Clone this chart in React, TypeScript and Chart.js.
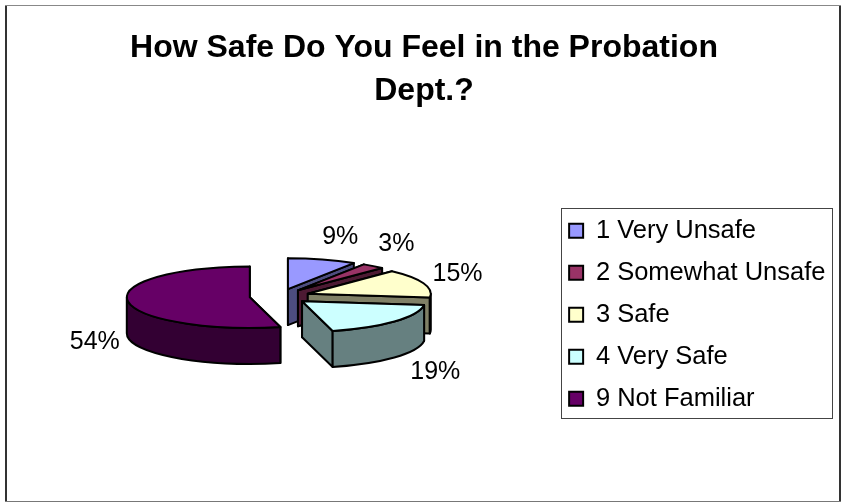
import React, { useEffect, useRef } from "react";
import { Chart, registerables } from "chart.js";

Chart.register(...registerables);

const categories = ["1 Very Unsafe", "2 Somewhat Unsafe", "3 Safe", "4 Very Safe", "9 Not Familiar"];
const percentages = [9, 3, 15, 19, 54];
const faceColors = ["#9999ff", "#993366", "#ffffcc", "#ccffff", "#660066"];
const wallColors = ["#4d4d80", "#4d1a33", "#808066", "#668080", "#330033"];
const titleLines = ["How Safe Do You Feel in the Probation", "Dept.?"];

// Nudges for the percentage labels, measured from the rim at each slice's mid-angle.
const labelNudges = [
  [18, -22],
  [23, -22],
  [34, -9],
  [41, 51],
  [-33, 41],
];

const RADIUS = 123;
const TILT = 0.25;
const DEPTH = 36;
const LIFT = DEPTH / 2 + 1;
const SHIFT_X = -3;
const EXPLODE = 30;

const pie3d = {
  id: "pie3d",
  beforeDatasetsDraw(chart: any) {
    const { ctx } = chart;
    const arcs = chart.getDatasetMeta(0).data;
    arcs.forEach((arc: any, i: number) => {
      const { x, y, startAngle: a0, endAngle: a1, outerRadius: r } = arc;
      const mid = (a0 + a1) / 2;
      const hx = x + SHIFT_X + Math.cos(mid) * EXPLODE;
      const hy = y - LIFT + Math.sin(mid) * EXPLODE * TILT;
      const px = (a: number) => hx + r * Math.cos(a);
      const py = (a: number) => hy + r * TILT * Math.sin(a);

      ctx.save();
      ctx.lineWidth = 2;
      ctx.lineJoin = "round";
      ctx.strokeStyle = "#000000";
      ctx.fillStyle = wallColors[i];

      // Cut faces running from the hub out to each radial edge.
      for (const a of [a0, a1]) {
        ctx.beginPath();
        ctx.moveTo(hx, hy);
        ctx.lineTo(px(a), py(a));
        ctx.lineTo(px(a), py(a) + DEPTH);
        ctx.lineTo(hx, hy + DEPTH);
        ctx.closePath();
        ctx.fill();
        ctx.stroke();
      }

      // Outer wall, only where the rim faces the viewer.
      const from = Math.max(a0, 0);
      const to = Math.min(a1, Math.PI);
      if (to > from) {
        ctx.beginPath();
        ctx.ellipse(hx, hy, r, r * TILT, 0, from, to);
        ctx.ellipse(hx, hy + DEPTH, r, r * TILT, 0, to, from, true);
        ctx.closePath();
        ctx.fill();
        ctx.stroke();
      }

      // Top face: the library's arc, squashed into the tilted plane and moved out.
      ctx.save();
      ctx.translate(hx, hy);
      ctx.scale(1, TILT);
      ctx.translate(-x, -y);
      arc.draw(ctx);
      ctx.restore();

      ctx.beginPath();
      ctx.moveTo(hx, hy);
      ctx.ellipse(hx, hy, r, r * TILT, 0, a0, a1);
      ctx.closePath();
      ctx.stroke();
      ctx.restore();
    });

    // Percentage labels.
    ctx.save();
    ctx.fillStyle = "#000000";
    ctx.font = '25px "Liberation Sans"';
    ctx.textAlign = "center";
    ctx.textBaseline = "middle";
    arcs.forEach((arc: any, i: number) => {
      const { x, y, startAngle: a0, endAngle: a1, outerRadius: r } = arc;
      const mid = (a0 + a1) / 2;
      const hx = x + SHIFT_X + Math.cos(mid) * EXPLODE;
      const hy = y - LIFT + Math.sin(mid) * EXPLODE * TILT;
      const [dx, dy] = labelNudges[i];
      ctx.fillText(
        `${percentages[i]}%`,
        hx + r * Math.cos(mid) + dx,
        hy + r * TILT * Math.sin(mid) + dy
      );
    });
    ctx.restore();
    return false;
  },
  beforeDraw(chart: any) {
    const { ctx } = chart;
    const line = (color: string, width: number, x0: number, y0: number, x1: number, y1: number) => {
      ctx.strokeStyle = color;
      ctx.lineWidth = width;
      ctx.beginPath();
      ctx.moveTo(x0, y0);
      ctx.lineTo(x1, y1);
      ctx.stroke();
    };
    ctx.save();
    // Outer frame of the chart: heavier on the sides.
    line("#333333", 2, 6, 5, 6, 502);
    line("#333333", 2, 840, 5, 840, 502);
    line("#888888", 1, 5, 5.5, 841, 5.5);
    line("#777777", 1, 5, 501.5, 841, 501.5);
    // Frame around the legend.
    ctx.strokeStyle = "#444444";
    ctx.lineWidth = 1;
    ctx.strokeRect(561.5, 208.5, 271, 210);
    ctx.restore();
  },
};

export default function App() {
  const ref = useRef<HTMLCanvasElement>(null);
  useEffect(() => {
    const chart = new Chart(ref.current!, {
      type: "pie",
      data: {
        labels: categories,
        datasets: [
          {
            data: percentages,
            backgroundColor: faceColors,
            borderColor: "#000000",
            borderWidth: 0,
          },
        ],
      },
      options: {
        responsive: false,
        animation: false,
        radius: RADIUS,
        layout: { padding: { left: 12.5, right: 5.5, top: 0, bottom: 73 } },
        plugins: {
          title: {
            display: true,
            text: titleLines,
            color: "#000000",
            font: { family: '"Liberation Sans"', size: 32, weight: "bold", lineHeight: 1.344 },
            padding: { top: 27, bottom: 88.5 },
          },
          legend: {
            position: "right",
            align: "start",
            fullSize: false,
            labels: {
              color: "#000000",
              font: { family: '"Liberation Sans"', size: 25.5 },
              boxWidth: 14,
              boxHeight: 14,
              padding: 16.5,
              generateLabels() {
                return categories.map((text, i) => ({
                  text,
                  fillStyle: faceColors[i],
                  strokeStyle: "#000000",
                  lineWidth: 2,
                  fontColor: "#000000",
                  index: i,
                }));
              },
            },
          },
          tooltip: { enabled: false },
        },
      } as any,
      plugins: [pie3d],
    });
    return () => chart.destroy();
  }, []);
  return (
    <canvas
      ref={ref}
      width={841}
      height={502}
      style={{ position: "fixed", left: 0, top: 0, width: 841, height: 502 }}
    />
  );
}
